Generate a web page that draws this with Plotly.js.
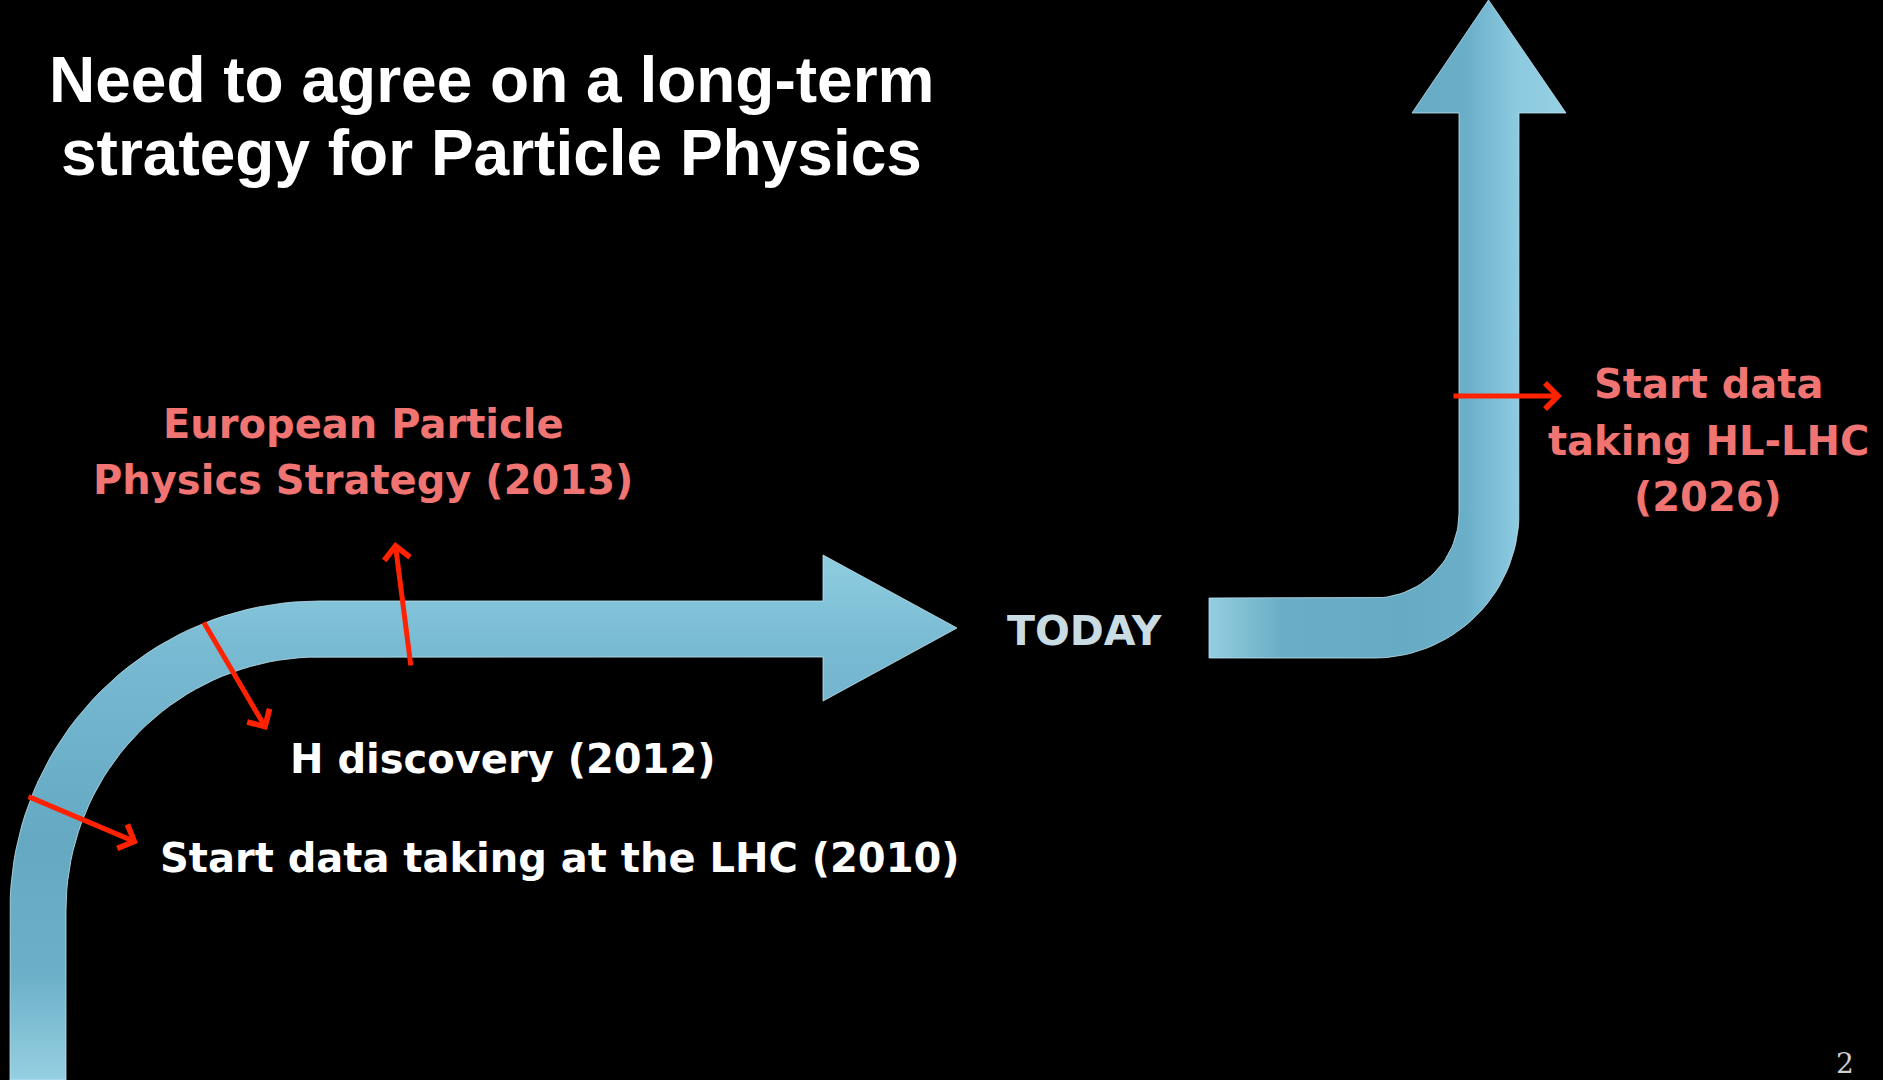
<!DOCTYPE html>
<html><head><meta charset="utf-8">
<script src="https://cdn.plot.ly/plotly-3.0.1.min.js"></script>
<style>html,body{margin:0;padding:0;background:#000;overflow:hidden}#chart{width:1883px;height:1080px}</style>
</head><body><div id="chart"></div>
<script>
// ---- content ----
const titleLines = ["Need to agree on a long-term", "strategy for Particle Physics"];
const milestoneLines = [
  ["Start data taking at the LHC (2010)"],
  ["H discovery (2012)"],
  ["European Particle", "Physics Strategy (2013)"],
  ["Start data", "taking HL-LHC", "(2026)"]
];
const milestoneYears = [2010, 2012, 2013, 2026];
const todayLabel = "TODAY";
const pageNumber = "2";

// ---- layout positions (slide pixel frame) ----
const titleX = 491, titleY = [80, 153];
const labelX = [560, 503, 363, 1708];
const labelY = [858, 759, 424, 384];
const labelGap = [0, 0, 55.5, 56.5];
const labelColor = ["#ffffff", "#ffffff", "#f07472", "#f07472"];
// pointer arrows: tail -> tip
const pointerTailX = [27, 203, 411, 1452];
const pointerTailY = [796, 621, 667, 396];
const pointerTipX = [138, 267, 395, 1562];
const pointerTipY = [843, 730, 542, 396];

// timeline band geometry (corner centres, radii, straight ends)
const leftBand = {cx: 319, cy: 910, rOut: 309, rIn: 253, bottom: 1080, shaftEnd: 823, headTop: 555, headBot: 701, tipX: 957, tipY: 628};
const rightBand = {x0: 1209, cx: 1374, cy: 513, rIn: 85, rOut: 145, headY: 113, headL: 1412, headR: 1566, tipX: 1488.5, tipY: 0};

function arc(cx, cy, r, a0, a1, fx, fy, n) {
  const xs = [], ys = [];
  for (let i = 0; i <= n; i++) {
    const t = (a0 + (a1 - a0) * i / n) * Math.PI / 180;
    xs.push(cx + fx(t) * r); ys.push(cy + fy(t) * r);
  }
  return [xs, ys];
}

// left band outline
const L = leftBand;
let lx = [L.cx - L.rOut], ly = [L.bottom];
let a = arc(L.cx, L.cy, L.rOut, 0, 90, t => -Math.cos(t), t => -Math.sin(t), 40);
lx = lx.concat(a[0]); ly = ly.concat(a[1]);
lx.push(L.shaftEnd, L.shaftEnd, L.tipX, L.shaftEnd, L.shaftEnd);
ly.push(L.cy - L.rOut, L.headTop, L.tipY, L.headBot, L.cy - L.rIn);
a = arc(L.cx, L.cy, L.rIn, 90, 0, t => -Math.cos(t), t => -Math.sin(t), 40);
lx = lx.concat(a[0]); ly = ly.concat(a[1]);
lx.push(L.cx - L.rIn, L.cx - L.rOut); ly.push(L.bottom, L.bottom);

// right band outline
const R = rightBand;
let rx = [R.x0, R.cx], ry = [R.cy + R.rIn, R.cy + R.rIn];
a = arc(R.cx, R.cy, R.rIn, 0, 90, t => Math.sin(t), t => Math.cos(t), 30);
rx = rx.concat(a[0]); ry = ry.concat(a[1]);
rx.push(R.cx + R.rIn, R.headL, R.tipX, R.headR, R.cx + R.rOut);
ry.push(R.headY, R.headY, R.tipY, R.headY, R.headY);
a = arc(R.cx, R.cy, R.rOut, 90, 0, t => Math.sin(t), t => Math.cos(t), 30);
rx = rx.concat(a[0]); ry = ry.concat(a[1]);
rx.push(R.x0, R.x0); ry.push(R.cy + R.rOut, R.cy + R.rIn);

const traces = [
  {x: lx, y: ly, mode: 'lines', fill: 'toself', hoverinfo: 'skip', showlegend: false,
   line: {color: 'rgba(190,228,240,0.8)', width: 1},
   fillcolor: '#74b6ce',
   fillgradient: {type: 'vertical', start: 555, stop: 1080,
     colorscale: [[0, '#8fcde0'], [0.18, '#78bad2'], [0.55, '#64a8c2'], [0.8, '#6cb0c8'], [1, '#95cfe1']]}},
  {x: rx, y: ry, mode: 'lines', fill: 'toself', hoverinfo: 'skip', showlegend: false,
   line: {color: 'rgba(190,228,240,0.8)', width: 1},
   fillcolor: '#74b6ce',
   fillgradient: {type: 'horizontal', start: 1209, stop: 1566,
     colorscale: [[0, '#94cee0'], [0.2, '#6aaec6'], [0.55, '#66aac4'], [0.72, '#6aaec8'], [0.86, '#8ccae0'], [1, '#96d0e2']]}}
];

const ann = [];
titleLines.forEach((t, i) => ann.push({x: titleX, y: titleY[i], xref: 'x', yref: 'y', text: t, showarrow: false,
  xanchor: 'center', yanchor: 'middle', font: {family: 'Liberation Sans, Arial, sans-serif', size: 64, color: '#ffffff', weight: 'bold'}}));
milestoneLines.forEach((lines, k) => lines.forEach((t, j) => ann.push({x: labelX[k], y: labelY[k] + j * labelGap[k], xref: 'x', yref: 'y',
  text: '<b>' + t + '</b>', showarrow: false, xanchor: 'center', yanchor: 'middle',
  font: {family: 'DejaVu Sans, Verdana, sans-serif', size: 40, color: labelColor[k]}})));
ann.push({x: 1085, y: 631, xref: 'x', yref: 'y', text: '<b>' + todayLabel + '</b>', showarrow: false, xanchor: 'center', yanchor: 'middle',
  font: {family: 'DejaVu Sans, Verdana, sans-serif', size: 41, color: '#c9dce3'}});
ann.push({x: 1845, y: 1063, xref: 'x', yref: 'y', text: pageNumber, showarrow: false, xanchor: 'center', yanchor: 'middle',
  font: {family: 'DejaVu Serif, Liberation Serif, serif', size: 28, color: '#cfcfcf'}});
pointerTipX.forEach((x, i) => ann.push({x: x, y: pointerTipY[i], ax: pointerTailX[i], ay: pointerTailY[i],
  xref: 'x', yref: 'y', axref: 'x', ayref: 'y', text: '', showarrow: true, arrowhead: 4, arrowsize: 1.0,
  arrowwidth: 5, arrowcolor: '#ff2200', standoff: 0, startstandoff: 0}));

const layout = {
  width: 1883, height: 1080, margin: {l: 0, r: 0, t: 0, b: 0, pad: 0},
  paper_bgcolor: '#000000', plot_bgcolor: '#000000', showlegend: false,
  xaxis: {range: [0, 1883], visible: false, fixedrange: true},
  yaxis: {range: [1080, 0], visible: false, fixedrange: true},
  annotations: ann
};
Plotly.newPlot('chart', traces, layout, {staticPlot: true, displayModeBar: false});
</script></body></html>
